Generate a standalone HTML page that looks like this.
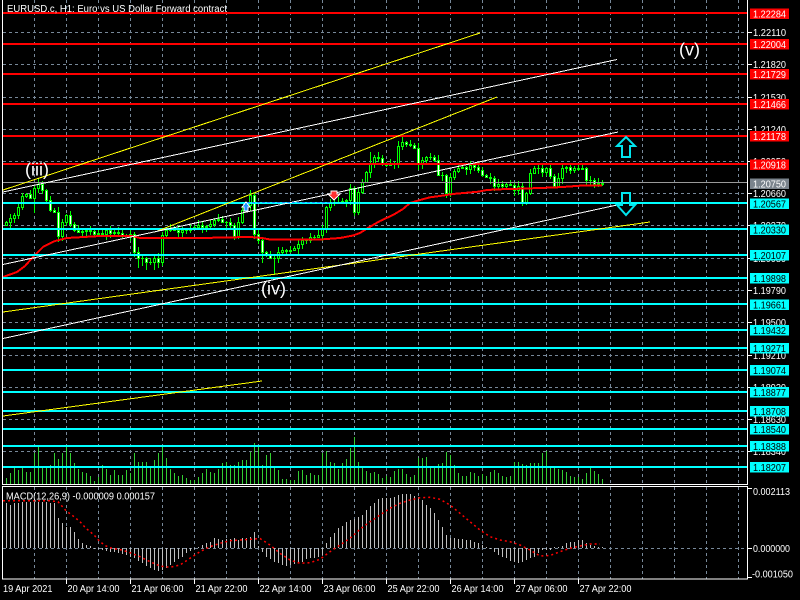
<!DOCTYPE html>
<html><head><meta charset="utf-8">
<style>
html,body{margin:0;padding:0;background:#000;}
body{width:800px;height:600px;overflow:hidden;}
svg{display:block;}
text{font-family:"Liberation Sans",Arial,sans-serif;}
</style></head>
<body>
<svg width="800" height="600" viewBox="0 0 800 600" xmlns="http://www.w3.org/2000/svg" shape-rendering="crispEdges">
<rect width="800" height="600" fill="#000"/>
<g id="grid" stroke="#778899" stroke-width="1" stroke-dasharray="3,3" fill="none"></g>
<g id="vol" fill="#32cd32"></g>
<g id="cand"></g>
<polyline fill="none" stroke="#ff0000" stroke-width="2" points="3,277 17,272 25,266 33,257 43,247 55,241 67,238 100,236 132,236 140,238 200,238 250,237 262,238 270,239.5 320,239.5 340,238 353,235.5 360,233 367,228.5 380,221 393,215 403,209 410,203 420,200 430,197.3 440,196 453,194 467,192.7 478,191.7 487,190 500,189.3 520,188.7 540,188 557,187.3 567,186.7 580,185.7 602,185.5"/>

<g fill="#ff0000">
<rect x="3" y="12" width="744" height="2"/>
<rect x="3" y="43" width="744" height="2"/>
<rect x="3" y="73" width="744" height="2"/>
<rect x="3" y="103" width="744" height="2"/>
<rect x="3" y="135" width="744" height="2"/>
<rect x="3" y="163" width="744" height="2"/>
</g>
<rect x="3" y="182" width="744" height="1" fill="#9a9a9a"/>
<g fill="#00ffff">
<rect x="3" y="202" width="744" height="2"/>
<rect x="3" y="228" width="744" height="2"/>
<rect x="3" y="254" width="744" height="2"/>
<rect x="3" y="277" width="744" height="2"/>
<rect x="3" y="303" width="744" height="2"/>
<rect x="3" y="329" width="744" height="2"/>
<rect x="3" y="347" width="744" height="2"/>
<rect x="3" y="369" width="744" height="2"/>
<rect x="3" y="391" width="744" height="2"/>
<rect x="3" y="410" width="744" height="2"/>
<rect x="3" y="428" width="744" height="2"/>
<rect x="3" y="445" width="744" height="2"/>
<rect x="3" y="466" width="744" height="2"/>
</g>

<g stroke-width="1" fill="none">
<line x1="3" y1="190" x2="480" y2="33" stroke="#ffff00"/>
<line x1="3" y1="312" x2="650" y2="222" stroke="#ffff00"/>
<line x1="155" y1="232" x2="497" y2="97" stroke="#ffff00"/>
<line x1="3" y1="416" x2="262" y2="381" stroke="#ffff00"/>
<line x1="3" y1="192" x2="617" y2="59.5" stroke="#ffffff"/>
<line x1="3" y1="264.5" x2="618" y2="132" stroke="#ffffff"/>
<line x1="3" y1="338.5" x2="617" y2="205" stroke="#ffffff"/>
<line x1="247" y1="202.5" x2="333" y2="202.5" stroke="#1e90ff" stroke-dasharray="3,2"/>
</g>

<polygon points="246,202 250,207 248,207 248,211 244,211 244,207 242,207" fill="#1e90ff" stroke="#fff" stroke-width="1"/>
<polygon points="331,191 337,191 337,194 340,194 334,200 328,194 331,194" fill="#ff3030" stroke="#fff" stroke-width="1"/>

<polygon points="626,137 635,146 630,146 630,157 622,157 622,146 617,146" fill="none" stroke="#00e5ee" stroke-width="2" shape-rendering="auto"/>
<polygon points="622,193 630,193 630,205 635,205 626,215 617,205 622,205" fill="none" stroke="#00e5ee" stroke-width="2" shape-rendering="auto"/>

<g fill="#fff" font-size="17.5">
<text x="25" y="175.5" textLength="24" lengthAdjust="spacingAndGlyphs">(iii)</text>
<text x="261" y="294.5" textLength="25" lengthAdjust="spacingAndGlyphs">(iv)</text>
<text x="679" y="55.5" textLength="21" lengthAdjust="spacingAndGlyphs">(v)</text>
</g>

<text x="7" y="12" font-size="10" fill="#fff" textLength="220" lengthAdjust="spacingAndGlyphs">EURUSD.c, H1:  Euro vs US Dollar Forward contract</text>

<polyline points="2.5,0 2.5,484.5 747.5,484.5 747.5,0" fill="none" stroke="#fff" stroke-width="1"/>
<rect x="2.5" y="486.5" width="745" height="92.5" fill="none" stroke="#fff" stroke-width="1"/>

<g id="hist" fill="#c0c0c0"></g>
<polyline fill="none" stroke="#ff0000" stroke-width="1.5" stroke-dasharray="2,3" shape-rendering="auto" points="3,500.7 50,500.7 58,501.7 66,510.7 74,516.7 80,521.7 86,528.3 94,535 100,541.7 106,546 112,548.3 122,550 130,552.7 140,556.7 150,561.7 160,566 170,567.3 180,565 190,558.3 200,551.7 210,546.7 220,543.3 230,540.7 240,540 250,539.3 260,538.5 270,545 280,553.3 290,560 300,563.3 310,562.7 320,559.3 330,551.7 340,545 350,538.3 360,529.3 370,521.7 380,515 390,508.3 400,503.3 410,500 420,497.7 430,497.3 440,499.3 450,505 460,513.3 470,521.7 480,530 490,536.7 500,540 510,541.7 520,545 530,550 540,556 550,555.5 560,551.7 570,548.3 580,546 590,544 600,544"/>
<text x="6" y="499.5" font-size="10" fill="#fff" textLength="149" lengthAdjust="spacingAndGlyphs">MACD(12,26,9) -0.000009 0.000157</text>

<g stroke="#fff" stroke-width="1">
<line x1="747" y1="32.5" x2="752" y2="32.5"/><line x1="747" y1="64.5" x2="752" y2="64.5"/>
<line x1="747" y1="97.5" x2="752" y2="97.5"/><line x1="747" y1="129.5" x2="752" y2="129.5"/>
<line x1="747" y1="161.5" x2="752" y2="161.5"/><line x1="747" y1="193.5" x2="752" y2="193.5"/>
<line x1="747" y1="225.5" x2="752" y2="225.5"/><line x1="747" y1="258.5" x2="752" y2="258.5"/>
<line x1="747" y1="290.5" x2="752" y2="290.5"/><line x1="747" y1="322.5" x2="752" y2="322.5"/>
<line x1="747" y1="355.5" x2="752" y2="355.5"/><line x1="747" y1="387.5" x2="752" y2="387.5"/>
<line x1="747" y1="419.5" x2="752" y2="419.5"/><line x1="747" y1="451.5" x2="752" y2="451.5"/>
<line x1="747" y1="488.5" x2="752" y2="488.5"/><line x1="747" y1="548.5" x2="752" y2="548.5"/>
<line x1="747" y1="577.5" x2="752" y2="577.5"/>
</g>
<g fill="#fff" font-size="10" lengthAdjust="spacingAndGlyphs">
<text x="753" y="36" textLength="33" lengthAdjust="spacingAndGlyphs">1.22110</text>
<text x="753" y="68" textLength="33" lengthAdjust="spacingAndGlyphs">1.21820</text>
<text x="753" y="101" textLength="33" lengthAdjust="spacingAndGlyphs">1.21530</text>
<text x="753" y="133" textLength="33" lengthAdjust="spacingAndGlyphs">1.21240</text>
<text x="753" y="165" textLength="33" lengthAdjust="spacingAndGlyphs">1.20950</text>
<text x="753" y="197" textLength="33" lengthAdjust="spacingAndGlyphs">1.20660</text>
<text x="753" y="229" textLength="33" lengthAdjust="spacingAndGlyphs">1.20370</text>
<text x="753" y="262" textLength="33" lengthAdjust="spacingAndGlyphs">1.20080</text>
<text x="753" y="294" textLength="33" lengthAdjust="spacingAndGlyphs">1.19790</text>
<text x="753" y="326" textLength="33" lengthAdjust="spacingAndGlyphs">1.19500</text>
<text x="753" y="359" textLength="33" lengthAdjust="spacingAndGlyphs">1.19210</text>
<text x="753" y="391" textLength="33" lengthAdjust="spacingAndGlyphs">1.18920</text>
<text x="753" y="423" textLength="33" lengthAdjust="spacingAndGlyphs">1.18630</text>
<text x="753" y="455" textLength="33" lengthAdjust="spacingAndGlyphs">1.18340</text>
<text x="753" y="495" textLength="37" lengthAdjust="spacingAndGlyphs">0.002113</text>
<text x="753" y="552" textLength="37" lengthAdjust="spacingAndGlyphs">0.000000</text>
<text x="752" y="577.5" textLength="41" lengthAdjust="spacingAndGlyphs">-0.001050</text>
</g>

<g font-size="10">
<rect x="750" y="8.5" width="39" height="10.5" fill="#ff0000"/><text x="753" y="17.5" fill="#fff" textLength="33" lengthAdjust="spacingAndGlyphs">1.22284</text>
<rect x="750" y="39" width="39" height="10.5" fill="#ff0000"/><text x="753" y="48" fill="#fff" textLength="33" lengthAdjust="spacingAndGlyphs">1.22004</text>
<rect x="750" y="69" width="39" height="10.5" fill="#ff0000"/><text x="753" y="78" fill="#fff" textLength="33" lengthAdjust="spacingAndGlyphs">1.21729</text>
<rect x="750" y="99" width="39" height="10.5" fill="#ff0000"/><text x="753" y="108" fill="#fff" textLength="33" lengthAdjust="spacingAndGlyphs">1.21466</text>
<rect x="750" y="131" width="39" height="10.5" fill="#ff0000"/><text x="753" y="140" fill="#fff" textLength="33" lengthAdjust="spacingAndGlyphs">1.21178</text>
<rect x="750" y="159.5" width="39" height="10.5" fill="#ff0000"/><text x="753" y="168.5" fill="#fff" textLength="33" lengthAdjust="spacingAndGlyphs">1.20918</text>
<rect x="750" y="178.5" width="39" height="10.5" fill="#7a838c"/><text x="753" y="187.5" fill="#fff" textLength="33" lengthAdjust="spacingAndGlyphs">1.20750</text>
<rect x="750" y="198.5" width="39" height="10.5" fill="#00ffff"/><text x="753" y="207.5" fill="#000" textLength="33" lengthAdjust="spacingAndGlyphs">1.20567</text>
<rect x="750" y="224.5" width="39" height="10.5" fill="#00ffff"/><text x="753" y="233.5" fill="#000" textLength="33" lengthAdjust="spacingAndGlyphs">1.20330</text>
<rect x="750" y="250" width="39" height="10.5" fill="#00ffff"/><text x="753" y="259" fill="#000" textLength="33" lengthAdjust="spacingAndGlyphs">1.20107</text>
<rect x="750" y="273" width="39" height="10.5" fill="#00ffff"/><text x="753" y="282" fill="#000" textLength="33" lengthAdjust="spacingAndGlyphs">1.19898</text>
<rect x="750" y="299.5" width="39" height="10.5" fill="#00ffff"/><text x="753" y="308.5" fill="#000" textLength="33" lengthAdjust="spacingAndGlyphs">1.19661</text>
<rect x="750" y="325" width="39" height="10.5" fill="#00ffff"/><text x="753" y="334" fill="#000" textLength="33" lengthAdjust="spacingAndGlyphs">1.19432</text>
<rect x="750" y="343" width="39" height="10.5" fill="#00ffff"/><text x="753" y="352" fill="#000" textLength="33" lengthAdjust="spacingAndGlyphs">1.19271</text>
<rect x="750" y="365" width="39" height="10.5" fill="#00ffff"/><text x="753" y="374" fill="#000" textLength="33" lengthAdjust="spacingAndGlyphs">1.19074</text>
<rect x="750" y="387" width="39" height="10.5" fill="#00ffff"/><text x="753" y="396" fill="#000" textLength="33" lengthAdjust="spacingAndGlyphs">1.18877</text>
<rect x="750" y="406" width="39" height="10.5" fill="#00ffff"/><text x="753" y="415" fill="#000" textLength="33" lengthAdjust="spacingAndGlyphs">1.18708</text>
<rect x="750" y="424" width="39" height="10.5" fill="#00ffff"/><text x="753" y="433" fill="#000" textLength="33" lengthAdjust="spacingAndGlyphs">1.18540</text>
<rect x="750" y="441" width="39" height="10.5" fill="#00ffff"/><text x="753" y="450" fill="#000" textLength="33" lengthAdjust="spacingAndGlyphs">1.18388</text>
<rect x="750" y="462" width="39" height="10.5" fill="#00ffff"/><text x="753" y="471" fill="#000" textLength="33" lengthAdjust="spacingAndGlyphs">1.18207</text>
</g>

<g stroke="#fff" stroke-width="1">
<line x1="66.5" y1="579" x2="66.5" y2="584"/><line x1="130.5" y1="579" x2="130.5" y2="584"/>
<line x1="194.5" y1="579" x2="194.5" y2="584"/><line x1="258.5" y1="579" x2="258.5" y2="584"/>
<line x1="322.5" y1="579" x2="322.5" y2="584"/><line x1="386.5" y1="579" x2="386.5" y2="584"/>
<line x1="450.5" y1="579" x2="450.5" y2="584"/><line x1="514.5" y1="579" x2="514.5" y2="584"/>
<line x1="578.5" y1="579" x2="578.5" y2="584"/>
</g>
<g fill="#fff" font-size="10">
<text x="3" y="592" textLength="49.5" lengthAdjust="spacingAndGlyphs">19 Apr 2021</text>
<text x="67.5" y="592" textLength="52" lengthAdjust="spacingAndGlyphs">20 Apr 14:00</text>
<text x="131.5" y="592" textLength="52" lengthAdjust="spacingAndGlyphs">21 Apr 06:00</text>
<text x="195.5" y="592" textLength="52" lengthAdjust="spacingAndGlyphs">21 Apr 22:00</text>
<text x="259.5" y="592" textLength="52" lengthAdjust="spacingAndGlyphs">22 Apr 14:00</text>
<text x="323.5" y="592" textLength="52" lengthAdjust="spacingAndGlyphs">23 Apr 06:00</text>
<text x="387.5" y="592" textLength="52" lengthAdjust="spacingAndGlyphs">25 Apr 22:00</text>
<text x="451.5" y="592" textLength="52" lengthAdjust="spacingAndGlyphs">26 Apr 14:00</text>
<text x="515.5" y="592" textLength="52" lengthAdjust="spacingAndGlyphs">27 Apr 06:00</text>
<text x="579.5" y="592" textLength="52" lengthAdjust="spacingAndGlyphs">27 Apr 22:00</text>
</g>
</svg>
<script>
(function(){
var g='';
for(var k=0;k<=22;k++){var x=34.5+32*k;g+='<line x1="'+x+'" y1="0" x2="'+x+'" y2="484"/><line x1="'+x+'" y1="487" x2="'+x+'" y2="579"/>';}
[32,64,97,129,161,193,225,258,290,322,355,387,419,451].forEach(function(y){g+='<line x1="3" y1="'+(y+.5)+'" x2="747" y2="'+(y+.5)+'"/>';});
g+='<line x1="3" y1="548.5" x2="747" y2="548.5"/>';
document.getElementById('grid').innerHTML=g;

var V=[115,100,85,90,80,97,97,38,20,78,78,75,40,58,38,20,38,70,87,97,100,108,122,110,75,88,105,90,105,105,90,100,38,65,65,65,80,60,38,20,55,88,100,108,105,115,120,120,110,100,88,95,100,88,70,65,75,75,65,60,60,35,10,20,75,45,40,80,90,118,118,120,120,93,90,105,100,105,105,40,33,65,70,88,70,57,25,-10,65,80,93,100,97,103,113,107,110,93,88,88,103,110,105,55,55,50,78,80,73,70,35,45,75,100,108,108,95,100,108,103,108,95,90,100,108,110,108,65,65,73,75,70,70,68,40,34,83,85,88,90,97,108,112,110,117,98,83,93,102,117];
var v='';
V.forEach(function(h,i){var y=Math.round(440+h/3);v+='<rect x="'+(6+4*i)+'" y="'+y+'" width="1" height="'+(484-y)+'"/>';});
document.getElementById('vol').innerHTML=v;

var H=[190,195,190,190,185,185,185,185,185,185,185,190,190,233,250,262,262,275,297,308,315,318,323,327,330,333,335,337,340,342,345,350,355,362,370,378,385,390,393,390,385,375,365,358,350,340,332,328,320,315,310,305,295,298,300,298,298,295,300,295,295,290,275,318,335,350,358,365,370,375,378,375,372,370,365,358,355,355,350,345,310,290,278,265,258,245,240,238,230,225,210,198,188,178,175,175,175,170,165,163,163,163,168,170,180,195,205,220,240,260,285,295,295,297,298,300,300,305,310,315,320,325,335,345,350,355,362,365,368,365,360,355,350,340,330,330,330,320,320,318,310,305,305,300,300,310,315,318,322,322];
var m='';
H.forEach(function(h,i){var y=Math.round(440+h/3),z=548;var t=Math.min(y,z),b=Math.max(y,z);m+='<rect x="'+(6+4*i)+'" y="'+t+'" width="1" height="'+Math.max(b-t,1)+'"/>';});
document.getElementById('hist').innerHTML=m;

var K=[[0,222],[1,218],[2,215],[3,207],[4,196],[5,194],[6,198],[7,188],[8,184],[9,190],[10,200],[11,210],[12,212],[13,236],[14,222],[15,215],[16,224],[17,230],[18,232],[21,231],[26,233],[31,234],[32,252],[33,258],[35,262],[37,258],[38,262],[39,235],[40,230],[42,230],[46,228],[50,226],[52,220],[54,222],[56,225],[57,236],[58,222],[59,210],[60,205],[61,195],[62,234],[63,240],[64,252],[65,255],[67,258],[68,252],[71,250],[73,244],[75,240],[78,235],[79,228],[80,207],[81,203],[83,202],[85,200],[86,188],[87,212],[88,192],[89,182],[90,172],[91,163],[92,157],[93,158],[95,165],[97,163],[98,146],[99,142],[100,144],[101,145],[102,148],[103,164],[104,160],[105,157],[106,157],[107,160],[108,175],[109,175],[110,193],[111,177],[112,171],[113,168],[114,167],[117,167],[118,170],[119,175],[120,177],[121,178],[122,186],[123,184],[124,186],[126,185],[127,190],[128,186],[129,202],[130,193],[131,173],[132,168],[133,168],[134,172],[135,168],[136,176],[137,186],[138,178],[139,168],[140,167],[144,168],[145,180],[146,180],[147,184],[148,183],[149,184]];
var N=150,C=[],NZ=[0,2,-2,1,-1,3,-3];
for(var k=0;k<K.length-1;k++){var i0=K[k][0],y0=K[k][1],i1=K[k+1][0],y1=K[k+1][1];
 for(var i=i0;i<i1;i++){C[i]=y0+(y1-y0)*(i-i0)/(i1-i0);if(i!==i0)C[i]+=NZ[(i*5)%7]*0.8;}}
C[N-1]=K[K.length-1][1];
var HI={8:179,61:190,99:136,91:152,86:184},LO={7:213,33:268,34:266,35:270,36:265,37:270,38:268,67:275,64:263,57:240};
var cs='';
for(var i=0;i<N;i++){
 var o=i?C[i-1]:C[0]+3,c=C[i],x=6+4*i;
 var top=Math.round(Math.min(o,c)),bot=Math.round(Math.max(o,c));
 var hi=top-(1+(i*53)%5),lo=bot+(1+(i*29)%6);
 if(HI[i]!==undefined)hi=HI[i];if(LO[i]!==undefined)lo=LO[i];
 cs+='<line x1="'+(x+.5)+'" y1="'+hi+'" x2="'+(x+.5)+'" y2="'+lo+'" stroke="#00ff00"/>';
 var bear=c>o;
 if(bot-top<1){cs+='<line x1="'+(x-1)+'" y1="'+(top+.5)+'" x2="'+(x+2)+'" y2="'+(top+.5)+'" stroke="#00ff00"/>';}
 else cs+='<rect x="'+(x-.5)+'" y="'+(top+.5)+'" width="2" height="'+(bot-top)+'" fill="'+(bear?'#ffffff':'#000000')+'" stroke="#00ff00"/>';
}
document.getElementById('cand').innerHTML=cs;
})();
</script>
</body></html>
